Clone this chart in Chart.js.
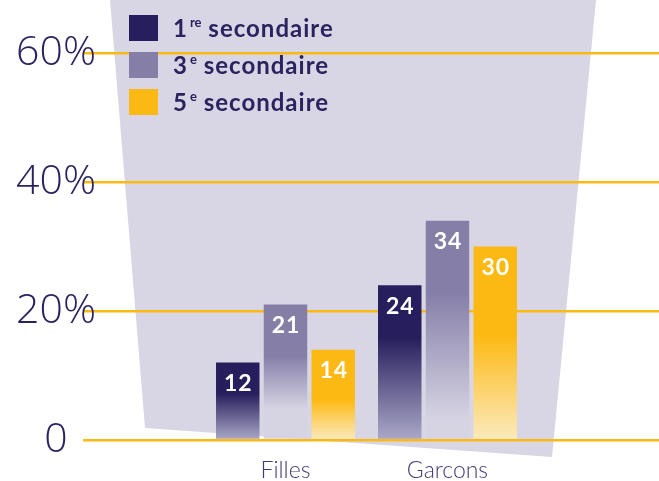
<!DOCTYPE html>
<html>
<head>
<meta charset="utf-8">
<script src="https://cdn.jsdelivr.net/npm/chart.js@4/dist/chart.umd.min.js"></script>
<style>
  html, body { margin: 0; padding: 0; background: #ffffff; }
  #wrap { position: relative; width: 659px; height: 481px; overflow: hidden; }
  #chart { position: absolute; left: 0; top: 0; }
  #legend { position: absolute; left: 129px; top: 15px; font-family: Lato, "Open Sans", sans-serif; font-weight: bold; font-size: 24px; letter-spacing: 1px; color: #2a235f; }
  #legend .row { position: absolute; left: 0; height: 26px; white-space: nowrap; }
  #legend .sw { position: absolute; left: 0; top: 0; width: 29px; height: 26px; }
  #legend .tx { position: absolute; left: 44px; top: 0; line-height: 26px; }
  #legend sup { font-size: 13px; letter-spacing: 0; vertical-align: 0; position: relative; top: -10px; margin-left: 2px; }
</style>
</head>
<body>
<div id="wrap">
  <canvas id="chart" width="659" height="481"></canvas>
  <div id="legend"></div>
</div>
<script>
// ---- data ----
const categories = ['Filles', 'Garcons'];
const seriesLabels = ['1re secondaire', '3e secondaire', '5e secondaire'];
const premiere = [12, 24];
const troisieme = [21, 34];
const cinquieme = [14, 30];
const yTicks = [0, 20, 40, 60];
const yTickLabels = ['0', '20%', '40%', '60%'];

// ---- styles ----
const navy = '#2a235f';
const gold = '#fdb913';
const seriesColors = ['#271f5d', '#857fa8', '#fdb913'];
const barFills = [
  { top: '#271f5d', bottom: '#aba9c9', ramp: [[0.40, 1.0], [0.34, 1.0]] },
  { top: '#857fa8', bottom: '#d6d4e3', ramp: [[0.38, 0.77], [0.33, 0.91]] },
  { top: '#fdb913', bottom: '#fbeabf', ramp: [[0.55, 1.0], [0.46, 1.0]] }
];

function fillFor(di) {
  return (c) => {
    const f = barFills[di];
    if (c.type !== 'data' || !c.chart.chartArea || !c.chart.scales.y) return f.top;
    const ys = c.chart.scales.y;
    const top = ys.getPixelForValue(c.raw.y);
    const base = ys.getPixelForValue(0);
    if (!isFinite(top) || !isFinite(base) || top === base) return f.top;
    const g = c.chart.ctx.createLinearGradient(0, top, 0, base);
    const [s, e] = f.ramp[c.dataIndex];
    g.addColorStop(0, f.top);
    g.addColorStop(s, f.top);
    g.addColorStop(e, f.bottom);
    g.addColorStop(1, f.bottom);
    return g;
  };
}

const seriesValues = [premiere, troisieme, cinquieme];
const datasets = seriesValues.map((vals, di) => ({
  label: seriesLabels[di],
  data: vals.map((v, i) => ({ x: i, y: v })),
  backgroundColor: fillFor(di),
  legendColor: seriesColors[di],
  borderWidth: 0,
  categoryPercentage: 0.884,
  barPercentage: 0.911
}));

// decorative backdrop panel
const backdrop = {
  id: 'backdrop',
  beforeDraw(chart) {
    const ctx = chart.ctx;
    ctx.save();
    ctx.fillStyle = '#d8d6e4';
    ctx.beginPath();
    ctx.moveTo(110, 0);
    ctx.lineTo(596, 0);
    ctx.lineTo(552, 457);
    ctx.lineTo(145, 428);
    ctx.closePath();
    ctx.fill();
    ctx.restore();
  }
};

const valueLabels = {
  id: 'valueLabels',
  afterDatasetsDraw(chart) {
    const ctx = chart.ctx;
    ctx.save();
    ctx.font = 'bold 23px Lato, "Open Sans", sans-serif';
    ctx.fillStyle = '#ffffff';
    ctx.textAlign = 'center';
    ctx.textBaseline = 'middle';
    try { ctx.letterSpacing = '1px'; } catch (e) {}
    chart.data.datasets.forEach((ds, di) => {
      chart.getDatasetMeta(di).data.forEach((el, i) => {
        ctx.fillText(String(ds.data[i].y), el.x + 0.5, el.y + 21);
      });
    });
    ctx.restore();
  }
};

const chart = new Chart(document.getElementById('chart'), {
  type: 'bar',
  data: { datasets },
  options: {
    responsive: false,
    animation: false,
    devicePixelRatio: 1,
    layout: { padding: { top: 53, left: 0, right: 0, bottom: 0 } },
    plugins: { legend: { display: false }, tooltip: { enabled: false } },
    scales: {
      x: {
        type: 'linear',
        offset: false,
        bounds: 'data',
        min: -1.25,
        max: 2.3056,
        grid: { display: false, drawTicks: false, offset: false },
        border: { display: false },
        afterBuildTicks: (s) => { s.ticks = categories.map((c, i) => ({ value: i })); },
        afterFit: (s) => { s.height = 41; },
        ticks: {
          callback: (v) => categories[v] ?? '',
          font: { family: 'Lato, "Open Sans", sans-serif', size: 23, weight: 300 },
          color: '#403a73',
          padding: 17,
          maxRotation: 0,
          autoSkip: false
        }
      },
      y: {
        min: 0,
        max: 60,
        grid: { color: gold, lineWidth: 2.5, drawTicks: false },
        border: { display: false },
        afterBuildTicks: (s) => { s.ticks = yTicks.map(v => ({ value: v })); },
        afterFit: (s) => {
          s.width = 83;
          // let the large tick labels overhang the axis box as in the original
          s._computeLabelArea = () => undefined;
        },
        ticks: {
          callback: (v) => yTickLabels[yTicks.indexOf(v)],
          font: { family: '"Open Sans", Lato, sans-serif', size: 41, weight: 300 },
          color: navy,
          crossAlign: 'center',
          padding: -13
        }
      }
    }
  },
  plugins: [backdrop, valueLabels]
});

// HTML legend built from the chart's datasets
const legend = document.getElementById('legend');
chart.data.datasets.forEach((ds, i) => {
  const row = document.createElement('div');
  row.className = 'row';
  row.style.top = (i * 37) + 'px';
  const sw = document.createElement('div');
  sw.className = 'sw';
  sw.style.background = ds.legendColor;
  const tx = document.createElement('div');
  tx.className = 'tx';
  const m = ds.label.match(/^(\d)(\S+)\s(.*)$/);
  if (m) {
    tx.append(m[1]);
    const sup = document.createElement('sup');
    sup.textContent = m[2];
    tx.append(sup);
    tx.append(' ' + m[3]);
  } else {
    tx.textContent = ds.label;
  }
  row.append(sw, tx);
  legend.append(row);
});
</script>
</body>
</html>
